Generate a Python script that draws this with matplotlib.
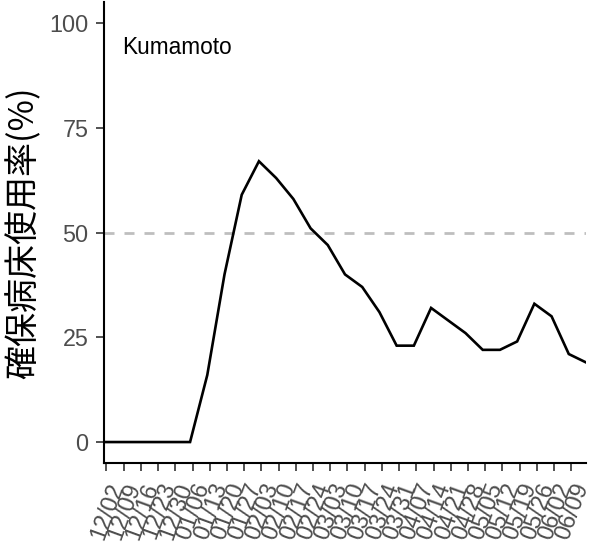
import matplotlib
matplotlib.use("Agg")
import matplotlib.pyplot as plt
import matplotlib.dates as mdates
import numpy as np
import pandas as pd

# Data (weekly)
dates = pd.date_range("2020-12-01", periods=29, freq="7D")
occupancy = [0, 0, 0, 0, 0, 0, 16, 40, 59, 67, 63, 58, 51, 47, 40, 37, 31,
             23, 23, 32, 29, 26, 22, 22, 24, 33, 30, 21, 19]
tick_dates = pd.date_range("2020-12-02", "2021-06-09", freq="7D")
tick_labels = [d.strftime("%m/%d") for d in tick_dates]
y_ticks = [0, 25, 50, 75, 100]
threshold = 50
region = "Kumamoto"
ylabel = "確保病床使用率(%)"

W, H = 596, 548
fig = plt.figure(figsize=(W / 100, H / 100), dpi=100)
ax = fig.add_axes([104 / W, (H - 463) / H, 482 / W, 461 / H])

ax.axhline(threshold, color="#BEBEBE", lw=2.0, dashes=(3.6, 3.6), zorder=1)
ax.plot(dates, occupancy, color="black", lw=1.9, zorder=2,
        solid_joinstyle="miter")

ax.set_xlim(dates[0], dates[-1])
ax.set_ylim(-5, 105)
ax.set_yticks(y_ticks)
ax.set_yticklabels([str(v) for v in y_ticks], fontsize=16.8, color="#4D4D4D",
                   family="Liberation Sans")
ax.set_xticks(tick_dates)
ax.set_xticklabels(tick_labels, rotation=70, rotation_mode="anchor",
                   ha="right", va="top", fontsize=16.8, color="#4D4D4D",
                   family="Liberation Sans")

for s in ["top", "right"]:
    ax.spines[s].set_visible(False)
for s in ["left", "bottom"]:
    ax.spines[s].set_linewidth(1.5)
    ax.spines[s].set_color("black")
ax.tick_params(axis="both", length=6, width=1.2, color="#333333")
ax.tick_params(axis="y", pad=5)
ax.tick_params(axis="x", pad=6)

ax.set_ylabel(ylabel, fontsize=24.5, family=["Noto Sans CJK JP", "DejaVu Sans"],
              color="black", labelpad=6)

ax.text(0.037, 0.902, region, transform=ax.transAxes, fontsize=16.3,
        family="Liberation Sans", color="black", va="center", ha="left")

fig.savefig("out.png", dpi=100)
